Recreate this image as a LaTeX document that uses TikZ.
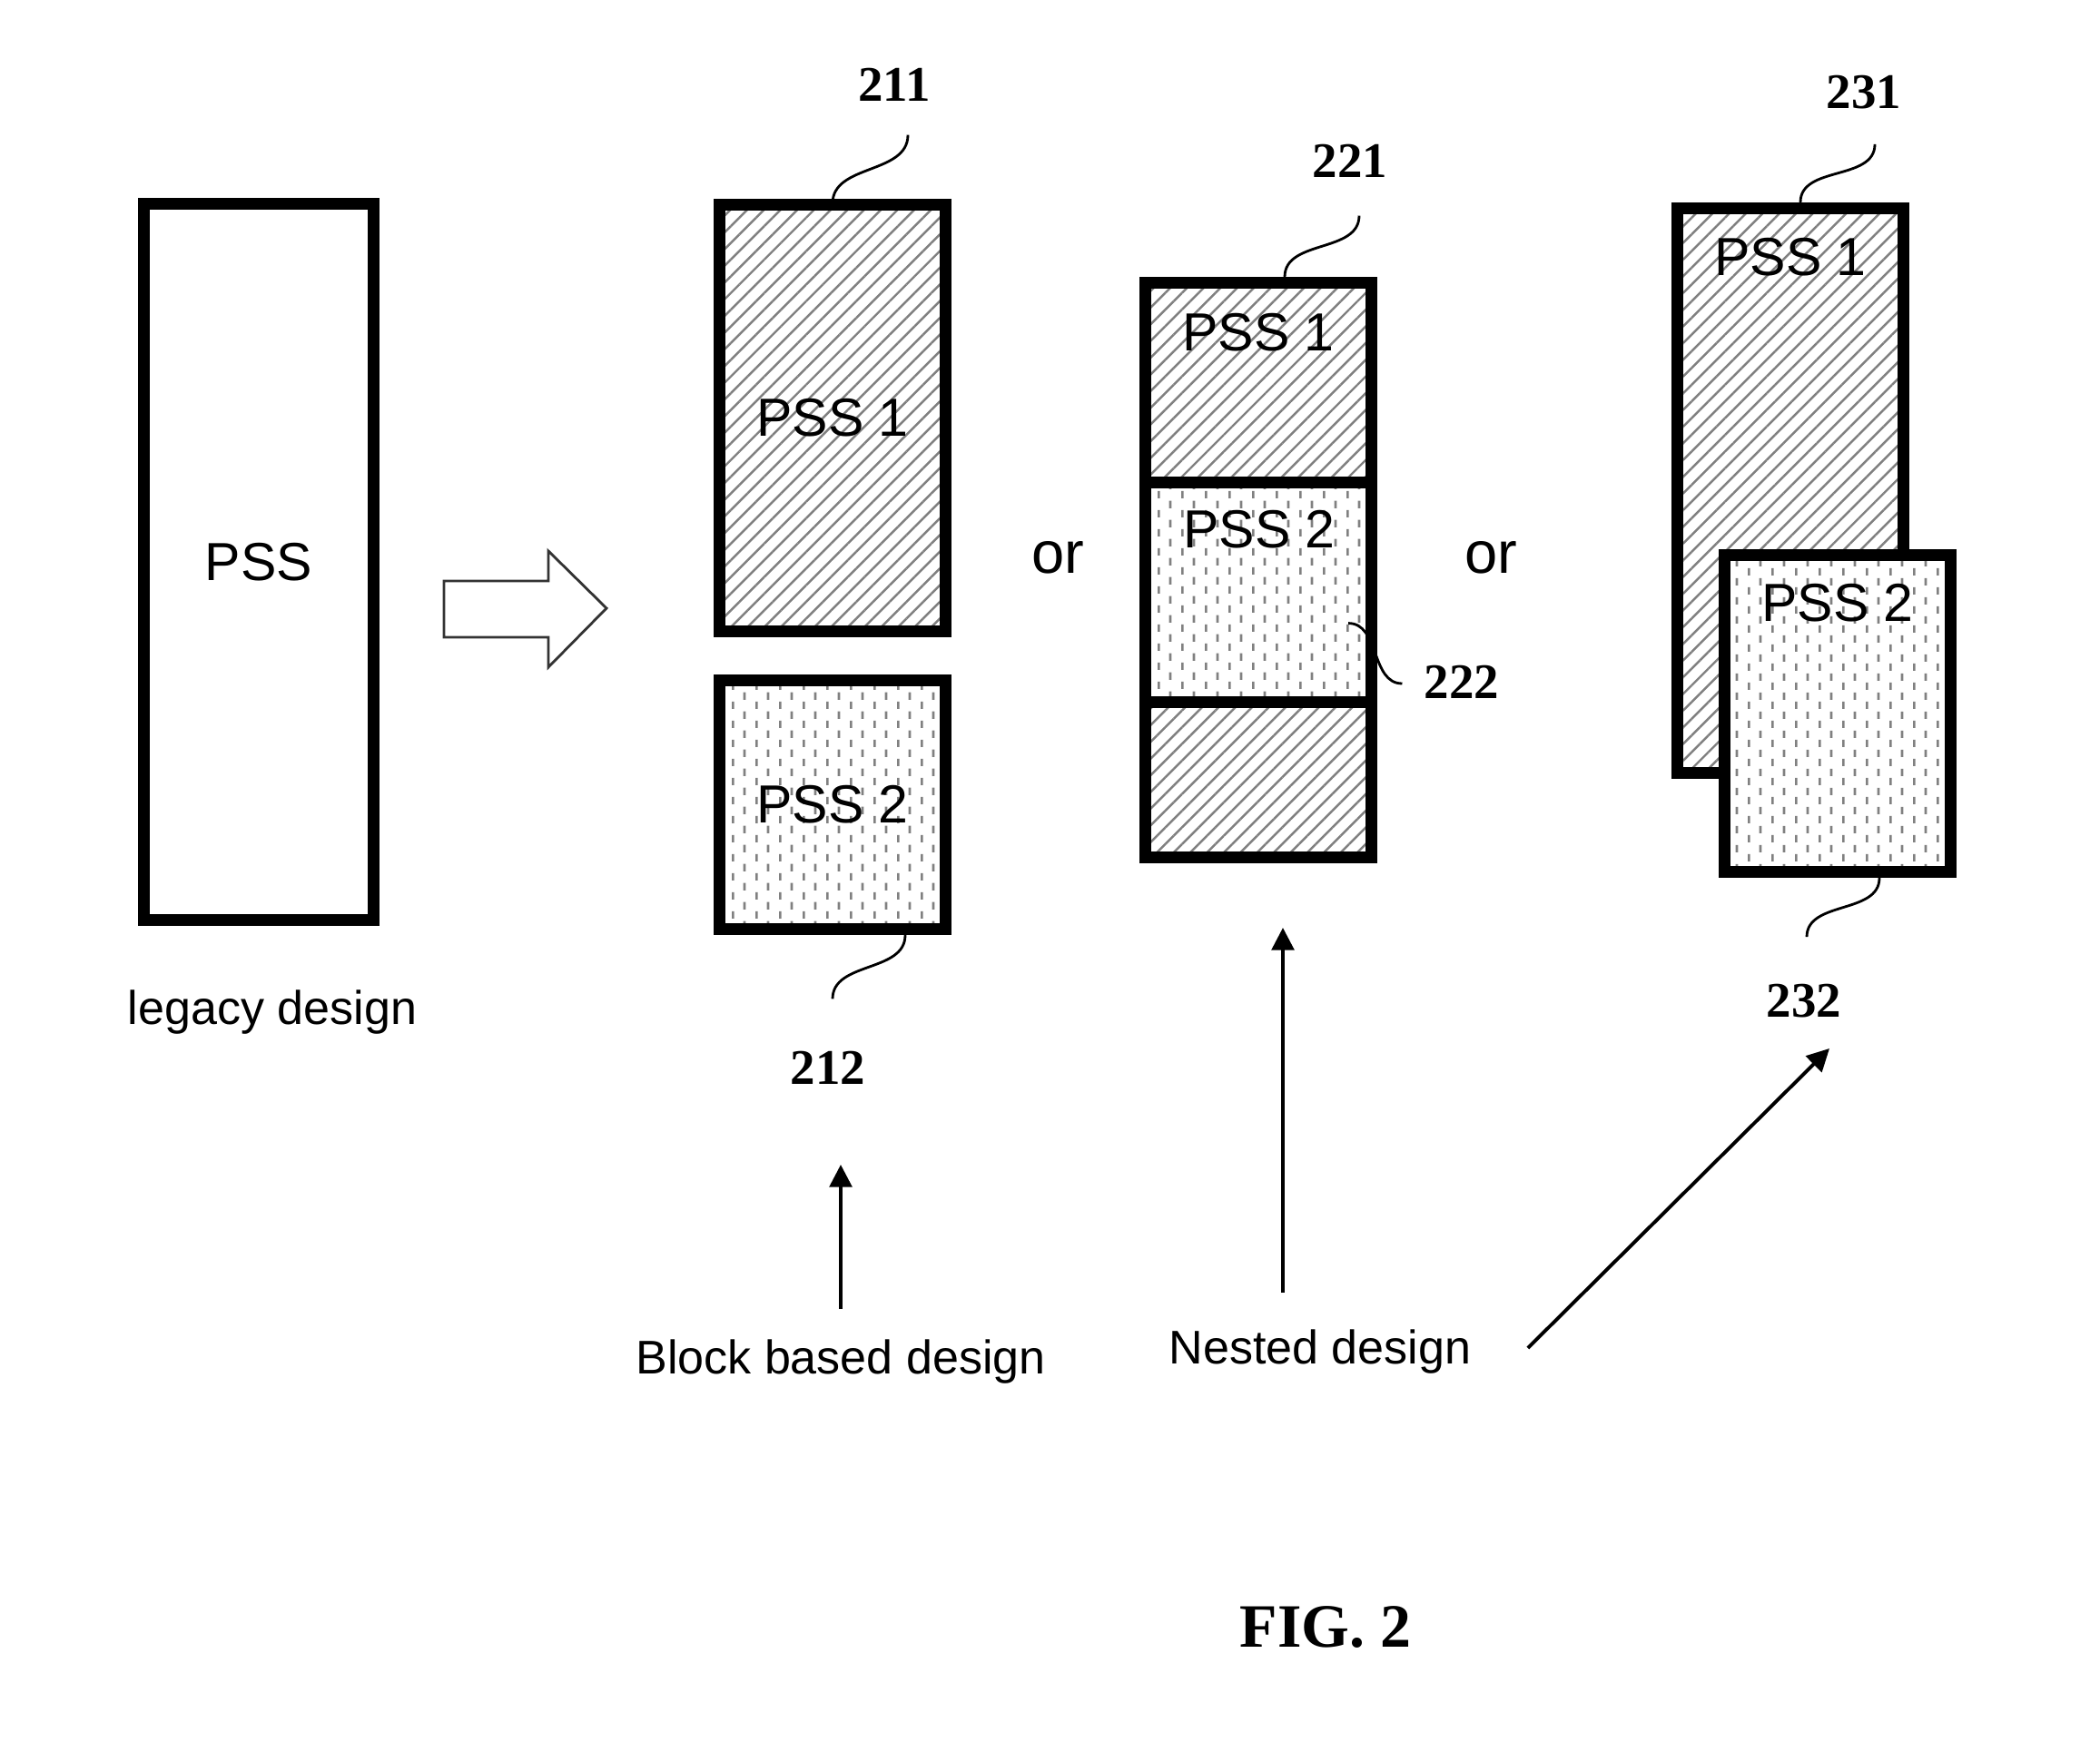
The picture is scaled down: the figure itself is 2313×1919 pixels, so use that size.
\documentclass[tikz,border=0pt]{standalone}
\usepackage{fontspec}
\setmainfont{Liberation Sans}
\newfontfamily\numfont{Liberation Serif}
\usetikzlibrary{arrows.meta,patterns.meta,calc}
\tikzdeclarepattern{name=vdashes,type=uncolored,
  bounding box={(0pt,0pt) and (7.4pt,6pt)},tile size={(7.4pt,6pt)},
  code={\fill (0pt,0pt) rectangle (0.8pt,2.4pt); \fill (3.7pt,3pt) rectangle (4.5pt,5.4pt);}}
\tikzstyle{blk}=[draw,line width=3.7pt,inner sep=0pt,minimum width=2.49cm,font=\fontsize{16.8}{20}\selectfont]
\tikzstyle{pss1}=[pattern={Lines[angle=45,distance=3.7pt,line width=0.7pt]},pattern color=gray]
\tikzstyle{pss2}=[preaction={fill=white},pattern=vdashes,pattern color=gray]
\tikzstyle{psstxt}=[font=\fontsize{16.8}{20}\selectfont]
\tikzstyle{ortxt}=[font=\fontsize{18.5}{22}\selectfont]
\tikzstyle{captxt}=[font=\fontsize{14.8}{18}\selectfont]
\tikzstyle{refno}=[font=\numfont\bfseries\fontsize{15.6}{18}\selectfont]
\tikzstyle{leader}=[line width=0.8pt]
\tikzstyle{uparr}=[line width=1.1pt,-{Triangle[width=7pt,length=7pt]}]

\begin{document}
\begin{tikzpicture}[x=0.01cm,y=-0.01cm]
\useasboundingbox (0,0) rectangle (2313,1919);
% legacy design
\node[blk,minimum height=7.88cm,minimum width=2.53cm] (leg) at (285,619) {PSS};
\node[captxt] (legcap) at (300,1115) {legacy design};
\draw[line width=0.8pt,black!80] (489,640) -- (604,640) -- (604,607) -- (668,670)
  -- (604,735) -- (604,702) -- (489,702) -- cycle;
% block based
\node[blk,pss1,minimum height=4.70cm] (b211) at (917,460.5) {PSS 1};
\node[blk,pss2,minimum height=2.74cm] (b212) at (917,886.5) {PSS 2};
\node[ortxt] (or1) at (1165,614) {or};
% nested
\node[blk,pss1,minimum height=2.20cm,anchor=north] (n221a) at (1386,305) {};
\node[blk,pss2,minimum height=2.42cm,anchor=north] (n221b) at (1386,525) {};
\node[blk,pss1,minimum height=1.705cm,anchor=north] (n221c) at (1386,767) {};
\node[psstxt] (t221a) at (1386,366) {PSS 1};
\node[psstxt] (t221b) at (1387,583) {PSS 2};
\node[ortxt] (or2) at (1642,614) {or};
% overlapped
\node[blk,pss1,minimum height=6.22cm] (b231) at (1972,540.5) {};
\node[blk,pss2,minimum height=3.49cm] (b232) at (2024,786) {};
\node[psstxt] (t231) at (1972,283) {PSS 1};
\node[psstxt] (t232) at (2024,664) {PSS 2};
% reference numbers
\node[refno] (l211) at (985,93) {211};
\node[refno] (l212) at (912,1176) {212};
\node[refno] (l221) at (1487,177) {221};
\node[refno] (l222) at (1610,751) {222};
\node[refno] (l231) at (2053,102) {231};
\node[refno] (l232) at (1987,1103) {232};
\draw[leader] (b211.north) to[out=90,in=-90] ($(l211.south)+(15,25)$);
\draw[leader] ($(b212.south)+(80,0)$) to[out=-90,in=90] ($(l212.north)+(5,-45)$);
\draw[leader] ($(n221a.north)+(29,0)$) to[out=90,in=-90] ($(l221.south)+(10,30)$);
\draw[leader] ($(n221b.east)+(-32,34)$) to[out=0,in=180] ($(l222.west)+(-12,2)$);
\draw[leader] ($(b231.north)+(11,0)$) to[out=90,in=-90] ($(l231.south)+(12,26)$);
\draw[leader] ($(b232.south)+(46,0)$) to[out=-90,in=90] ($(l232.north)+(3,-40)$);
% captions and arrows
\node[captxt] (blockcap) at (926,1500) {Block based design};
\node[captxt] (nestcap) at (1454,1489) {Nested design};
\coordinate (blocktip) at (926,1283);
\coordinate (nesttip) at (1413,1022);
\coordinate (overtip) at (2015,1155);
\draw[uparr,shorten <=6pt] (blockcap.north -| blocktip) -- (blocktip);
\draw[uparr,shorten <=8pt] (nestcap.north -| nesttip) -- (nesttip);
\draw[uparr] ($(nestcap.east)+(50,-4)$) -- (overtip);
\node[font=\numfont\bfseries\fontsize{19.3}{22}\selectfont] (fig) at (1460,1792) {FIG. 2};
\end{tikzpicture}
\end{document}
